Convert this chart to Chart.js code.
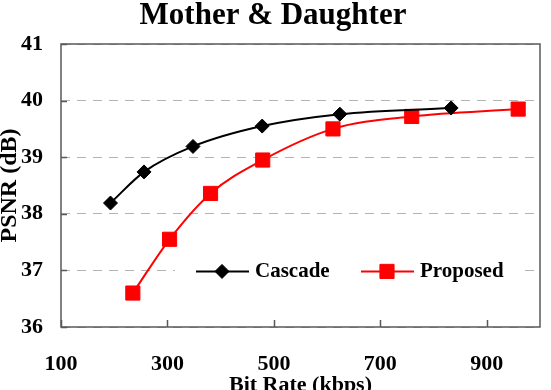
<!DOCTYPE html>
<html>
<head>
<meta charset="utf-8">
<script src="https://cdn.jsdelivr.net/npm/chart.js@4.4.0/dist/chart.umd.min.js"></script>
<style>
html, body { margin: 0; padding: 0; overflow: hidden; background: #fff; }
</style>
</head>
<body>
<canvas id="psnrChart" width="551" height="400"></canvas>
<script>
'use strict'

//++++++++++++++ Data ++++++++++++++//
let cascadeRate = [193, 256, 348, 478, 624, 833];
let cascadePsnr = [38.19, 38.74, 39.19, 39.55, 39.76, 39.87];
let proposedRate = [235, 304, 381, 479, 611, 759, 959];
let proposedPsnr = [36.60, 37.55, 38.36, 38.95, 39.50, 39.72, 39.85];
let xTicks = [100, 300, 500, 700, 900];
let yTicks = [36, 37, 38, 39, 40, 41];

function toPoints(xs, ys) {
  return xs.map((v, i) => ({ x: v, y: ys[i] }));
}

const serif = "'Liberation Serif', 'Times New Roman', serif";
Chart.defaults.font.family = serif;
Chart.defaults.font.weight = 'bold';
Chart.defaults.font.size = 22;
Chart.defaults.color = '#000';

//++++++++++++++ Frame + inward tick marks ++++++++++++++//
const frameAndTicks = {
  id: 'frameAndTicks',
  beforeDatasetsDraw(chart) {
    const { ctx, chartArea: a, scales: { x, y } } = chart;
    ctx.save();
    ctx.strokeStyle = '#595959';
    ctx.lineWidth = 1.5;
    ctx.strokeRect(a.left, a.top, a.width, a.height);
    ctx.beginPath();
    x.ticks.forEach(t => {
      let px = Math.round(x.getPixelForValue(t.value)) + 0.5;
      ctx.moveTo(px, a.bottom);
      ctx.lineTo(px, a.bottom - 7);
    });
    y.ticks.forEach(t => {
      let py = Math.round(y.getPixelForValue(t.value)) + 0.5;
      ctx.moveTo(a.left, py);
      ctx.lineTo(a.left + 6, py);
    });
    ctx.stroke();
    ctx.restore();
  }
};

//++++++++++++++ Legend drawn inside the plot ++++++++++++++//
const insideLegend = {
  id: 'insideLegend',
  afterDatasetsDraw(chart) {
    const { ctx, scales: { y } } = chart;
    let cy = y.getPixelForValue(37) + 1;
    let starts = [196, 361];
    ctx.save();
    ctx.fillStyle = '#fff';
    ctx.fillRect(175, cy - 13, 343, 26);
    chart.data.datasets.forEach((ds, i) => {
      let x0 = starts[i];
      ctx.strokeStyle = ds.borderColor;
      ctx.fillStyle = ds.backgroundColor;
      ctx.lineWidth = 2;
      ctx.beginPath();
      ctx.moveTo(x0, cy);
      ctx.lineTo(x0 + 53, cy);
      ctx.stroke();
      ctx.lineWidth = 1;
      Chart.helpers.drawPoint(ctx, {
        pointStyle: ds.pointStyle,
        radius: ds.pointRadius,
        borderWidth: 1,
        rotation: 0
      }, x0 + 26, cy);
      ctx.fillStyle = '#000';
      ctx.font = 'bold 21px ' + serif;
      ctx.textBaseline = 'middle';
      ctx.textAlign = 'left';
      ctx.fillText(ds.label, x0 + 59, cy);
    });
    ctx.restore();
  }
};

//++++++++++++++ Chart ++++++++++++++//
const ctx = document.getElementById('psnrChart').getContext('2d');
const psnrChart = new Chart(ctx, {
  type: 'line',
  data: {
    datasets: [{
      label: 'Cascade',
      data: toPoints(cascadeRate, cascadePsnr),
      borderColor: '#000000',
      backgroundColor: '#000000',
      borderWidth: 2,
      pointStyle: 'rectRot',
      pointRadius: 7,
      pointBorderWidth: 1,
      cubicInterpolationMode: 'monotone'
    }, {
      label: 'Proposed',
      data: toPoints(proposedRate, proposedPsnr),
      borderColor: '#ff0000',
      backgroundColor: '#ff0000',
      borderWidth: 2,
      pointStyle: 'rect',
      pointRadius: 10,
      pointBorderWidth: 1,
      cubicInterpolationMode: 'monotone'
    }]
  },
  options: {
    responsive: false,
    animation: false,
    layout: { padding: { top: 0, right: 5, bottom: 0, left: 0 } },
    plugins: {
      legend: { display: false },
      tooltip: { enabled: false },
      title: {
        display: true,
        text: 'Mother & Daughter',
        font: { size: 31, weight: 'bold', lineHeight: 1.0 },
        padding: { top: 0, bottom: 13 }
      }
    },
    scales: {
      x: {
        type: 'linear',
        min: 100,
        max: 1000,
        afterBuildTicks: s => { s.ticks = xTicks.map(v => ({ value: v })); },
        afterFit: s => { s.height = 73; },
        grid: { display: false, drawTicks: false },
        border: { display: false },
        ticks: { padding: 24 },
        title: {
          display: true,
          text: 'Bit Rate (kbps)',
          padding: { top: 0, bottom: 1 }
        }
      },
      y: {
        min: 36,
        max: 41,
        afterBuildTicks: s => { s.ticks = yTicks.map(v => ({ value: v })); },
        afterFit: s => { s.width = 61; },
        grid: { color: '#b3b3b3', lineWidth: 1, drawTicks: false },
        border: { display: false, dash: [9, 7] },
        ticks: { padding: 18 },
        title: {
          display: true,
          text: 'PSNR (dB)',
          font: { size: 24, weight: 'bold', lineHeight: 0.8 },
          padding: { top: 0, bottom: 0 }
        }
      }
    }
  },
  plugins: [frameAndTicks, insideLegend]
});
</script>
</body>
</html>
